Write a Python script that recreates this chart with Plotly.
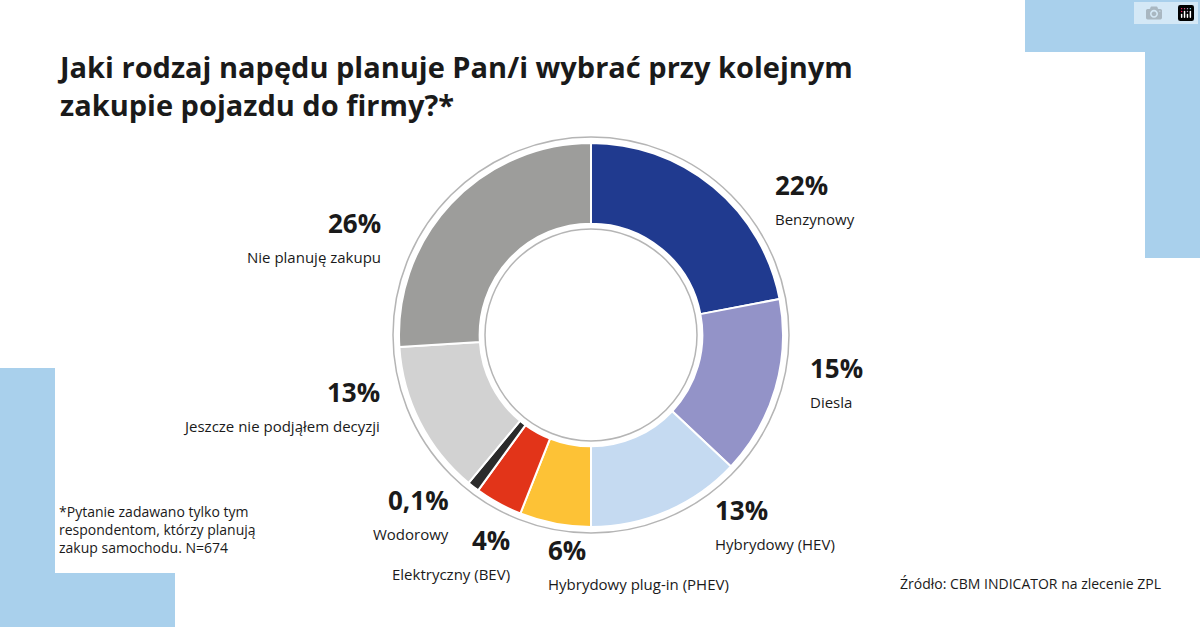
import plotly.graph_objects as go

labels = ["Benzynowy", "Diesla", "Hybrydowy (HEV)", "Hybrydowy plug-in (PHEV)",
          "Elektryczny (BEV)", "Wodorowy", "Jeszcze nie podjąłem decyzji", "Nie planuję zakupu"]
values = [22, 15, 13, 6, 4, 1, 13, 26]
pct_text = ["22%", "15%", "13%", "6%", "4%", "0,1%", "13%", "26%"]
colors = ["#203a8f", "#9393c8", "#c5daf1", "#fdc236", "#e23419", "#2b2b2b", "#d2d2d2", "#9d9d9b"]

W, H = 1200, 627
cx, cy, r = 591, 335, 192

def px(x): return x / W
def py(y): return 1 - y / H

fig = go.Figure(go.Pie(
    labels=labels, values=values, sort=False, direction="clockwise", rotation=0,
    hole=0.58, textinfo="none", hoverinfo="label+value",
    marker=dict(colors=colors, line=dict(color="white", width=2)),
    domain=dict(x=[px(cx - r), px(cx + r)], y=[py(cy + r), py(cy - r)]),
    showlegend=False,
))

shapes = []
blue = "#a9d0ec"
for x0, y0, x1, y1 in [(1025, 0, 1200, 52), (1145, 0, 1200, 258),
                       (0, 368, 55, 627), (0, 573, 175, 627)]:
    shapes.append(dict(type="rect", xref="paper", yref="paper", x0=px(x0), x1=px(x1),
                       y0=py(y1), y1=py(y0), fillcolor=blue, line=dict(width=0), layer="below"))
for rr in (198, 106):
    shapes.append(dict(type="circle", xref="paper", yref="paper",
                       x0=px(cx - rr), x1=px(cx + rr), y0=py(cy + rr), y1=py(cy - rr),
                       line=dict(color="#b5b5b5", width=1.5)))

ann = []
font = "Open Sans"
def label(x, y, pct, name, align):
    ann.append(dict(x=px(x), y=py(y), xref="paper", yref="paper", text="<b>" + pct + "</b>",
                    showarrow=False, xanchor=align, yanchor="bottom",
                    font=dict(family=font, size=26, color="#1a1a1a")))
    ann.append(dict(x=px(x), y=py(y + 2), xref="paper", yref="paper", text=name,
                    showarrow=False, xanchor=align, yanchor="top",
                    font=dict(family=font, size=15, color="#1a1a1a")))

pos = [(773, 205, "left"), (808, 388, "left"), (713, 530, "left"), (546, 570, "left"),
       (512, 560, "right"), (451, 520, "right"), (382, 412, "right"), (383, 243, "right")]
for (x, y, a), p, n in zip(pos, pct_text, labels):
    label(x, y, p, n, a)

ann.append(dict(x=px(55), y=py(45), xref="paper", yref="paper", xanchor="left", yanchor="top",
                align="left", showarrow=False,
                text="<b>Jaki rodzaj napędu planuje Pan/i wybrać przy kolejnym<br>zakupie pojazdu do firmy?*</b>",
                font=dict(family=font, size=29, color="#1a1a1a")))
ann.append(dict(x=px(57), y=py(500), xref="paper", yref="paper", xanchor="left", yanchor="top",
                align="left", showarrow=False,
                text="*Pytanie zadawano tylko tym<br>respondentom, którzy planują<br>zakup samochodu. N=674",
                font=dict(family=font, size=14, color="#1a1a1a")))
ann.append(dict(x=px(1163), y=py(583), xref="paper", yref="paper", xanchor="right", yanchor="middle",
                showarrow=False, text="Źródło: CBM INDICATOR na zlecenie ZPL",
                font=dict(family=font, size=14, color="#1a1a1a")))

fig.update_layout(width=W, height=H, margin=dict(l=0, r=0, t=0, b=0),
                  paper_bgcolor="white", plot_bgcolor="white",
                  shapes=shapes, annotations=ann)
fig.write_html("out.html", post_script="document.body.style.margin='0';")
